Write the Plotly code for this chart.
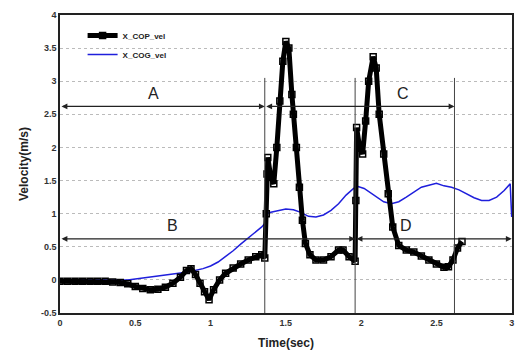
import plotly.graph_objects as go

# COP velocity (black, square markers)
t_cop = [0.00, 0.05, 0.10, 0.15, 0.20, 0.25, 0.30, 0.35, 0.40, 0.45, 0.50, 0.55, 0.60, 0.65,
         0.70, 0.75, 0.80, 0.84, 0.87, 0.90, 0.93, 0.96, 0.99, 1.02, 1.06, 1.10, 1.15, 1.20,
         1.25, 1.30, 1.34, 1.36, 1.37, 1.375, 1.38, 1.40, 1.42, 1.44, 1.46, 1.48, 1.50, 1.52,
         1.54, 1.55, 1.57, 1.59, 1.61, 1.63, 1.66, 1.70, 1.75, 1.80, 1.85, 1.88, 1.92, 1.96,
         1.965, 1.97, 1.99, 2.01, 2.03, 2.05, 2.08, 2.10, 2.12, 2.15, 2.18, 2.21, 2.25, 2.30,
         2.35, 2.40, 2.45, 2.50, 2.55, 2.58, 2.61, 2.64, 2.67]
v_cop = [-0.02, -0.02, -0.02, -0.02, -0.02, -0.02, -0.02, -0.03, -0.04, -0.06, -0.10, -0.13, -0.15, -0.14,
         -0.11, -0.05, 0.04, 0.14, 0.17, 0.08, -0.05, -0.18, -0.30, -0.15, 0.00, 0.10, 0.18, 0.24,
         0.30, 0.35, 0.38, 0.33, 1.00, 1.60, 1.85, 1.55, 1.45, 2.00, 2.70, 3.30, 3.60, 3.50,
         2.80, 2.50, 2.00, 1.40, 0.90, 0.55, 0.38, 0.30, 0.30, 0.35, 0.45, 0.45, 0.35, 0.28,
         1.20, 2.30, 2.00, 1.90, 2.40, 3.00, 3.37, 3.20, 2.50, 1.90, 1.30, 0.80, 0.52, 0.45,
         0.42, 0.36, 0.30, 0.24, 0.19, 0.20, 0.30, 0.48, 0.58]

# COG velocity (blue line)
t_cog = [0.00, 0.45, 0.55, 0.65, 0.75, 0.85, 0.95, 1.00, 1.05, 1.10, 1.15, 1.20, 1.25, 1.30,
         1.34, 1.36, 1.37, 1.40, 1.45, 1.50, 1.55, 1.60, 1.65, 1.70, 1.75, 1.80, 1.85, 1.90,
         1.95, 1.98, 2.02, 2.06, 2.10, 2.15, 2.20, 2.25, 2.30, 2.35, 2.40, 2.45, 2.50, 2.55,
         2.60, 2.65, 2.70, 2.75, 2.80, 2.85, 2.90, 2.95, 2.99, 3.00]
v_cog = [0.00, 0.00, 0.03, 0.06, 0.09, 0.12, 0.17, 0.21, 0.27, 0.35, 0.44, 0.54, 0.63, 0.72,
         0.80, 0.85, 1.00, 1.02, 1.05, 1.07, 1.06, 1.02, 0.96, 0.95, 0.98, 1.05, 1.15, 1.28,
         1.38, 1.41, 1.38, 1.32, 1.25, 1.18, 1.15, 1.18, 1.25, 1.33, 1.40, 1.43, 1.46, 1.42,
         1.40, 1.36, 1.30, 1.24, 1.20, 1.20, 1.25, 1.35, 1.45, 0.95]

x_ticks = [0, 0.5, 1, 1.5, 2, 2.5, 3]
y_ticks = [-0.5, 0, 0.5, 1, 1.5, 2, 2.5, 3, 3.5, 4]

# phase markers
phase_lines = [1.36, 1.96, 2.62]

fig = go.Figure()
fig.add_trace(go.Scatter(
    x=t_cog, y=v_cog, mode="lines", name="X_COG_vel",
    line=dict(color="#1f1fdc", width=1.5)))
fig.add_trace(go.Scatter(
    x=t_cop, y=v_cop, mode="lines+markers", name="X_COP_vel",
    line=dict(color="black", width=5),
    marker=dict(symbol="square-open", size=6, color="black", line=dict(width=1.5))))

for xv in phase_lines:
    fig.add_shape(type="line", x0=xv, x1=xv, y0=-0.5, y1=3.05,
                  line=dict(color="#444", width=1))

def add_arrow(label, x0, x1, y, ylab, xlab):
    fig.add_annotation(x=x1, y=y, ax=x0, ay=y, xref="x", yref="y", axref="x", ayref="y",
                       text="", showarrow=True, arrowhead=2, startarrowhead=2,
                       arrowside="end+start", arrowsize=0.9, arrowwidth=1.3,
                       arrowcolor="#222", startstandoff=0, standoff=0)
    fig.add_annotation(x=xlab, y=ylab, xref="x", yref="y", text=label, showarrow=False,
                       font=dict(family="Liberation Sans", size=16, color="#222"))

add_arrow("A", 0.0, 1.36, 2.62, 2.82, 0.62)
add_arrow("C", 1.36, 2.62, 2.62, 2.82, 2.28)
add_arrow("B", 0.0, 1.96, 0.62, 0.82, 0.75)
add_arrow("D", 1.96, 3.0, 0.62, 0.82, 2.30)

tickfont = dict(family="Liberation Sans", size=9, color="#333", weight="bold")
fig.update_xaxes(range=[0, 3.002], tickvals=x_ticks, ticktext=[str(v) for v in x_ticks],
                 showgrid=False, zeroline=False, showline=True, mirror=True,
                 linecolor="#222", linewidth=1.5, ticks="", tickfont=tickfont,
                 ticklabeloverflow="allow",
                 title=dict(text="Time(sec)", standoff=12,
                            font=dict(family="Liberation Sans", size=12, color="#222", weight="bold")))
fig.update_yaxes(range=[-0.5, 4], tickvals=y_ticks, ticktext=[str(v) for v in y_ticks],
                 showgrid=True, gridcolor="#bbb", griddash="dot", gridwidth=1,
                 zeroline=False, showline=True, mirror=True,
                 linecolor="#222", linewidth=1.5, ticks="", tickfont=tickfont,
                 title=dict(text="Velocity(m/s)", standoff=10,
                            font=dict(family="Liberation Sans", size=12, color="#222", weight="bold")))

fig.update_layout(
    width=520, height=356,
    margin=dict(l=60, r=6, t=15, b=43),
    paper_bgcolor="white", plot_bgcolor="white",
    showlegend=True,
    legend=dict(x=0.05, y=0.98, xanchor="left", yanchor="top", traceorder="reversed",
                bgcolor="rgba(0,0,0,0)", itemwidth=30,
                font=dict(family="Liberation Sans", size=8, color="#222", weight="bold")),
)

fig.write_html("out.html", config={"displayModeBar": False},
               post_script="document.body.style.margin='0';")
